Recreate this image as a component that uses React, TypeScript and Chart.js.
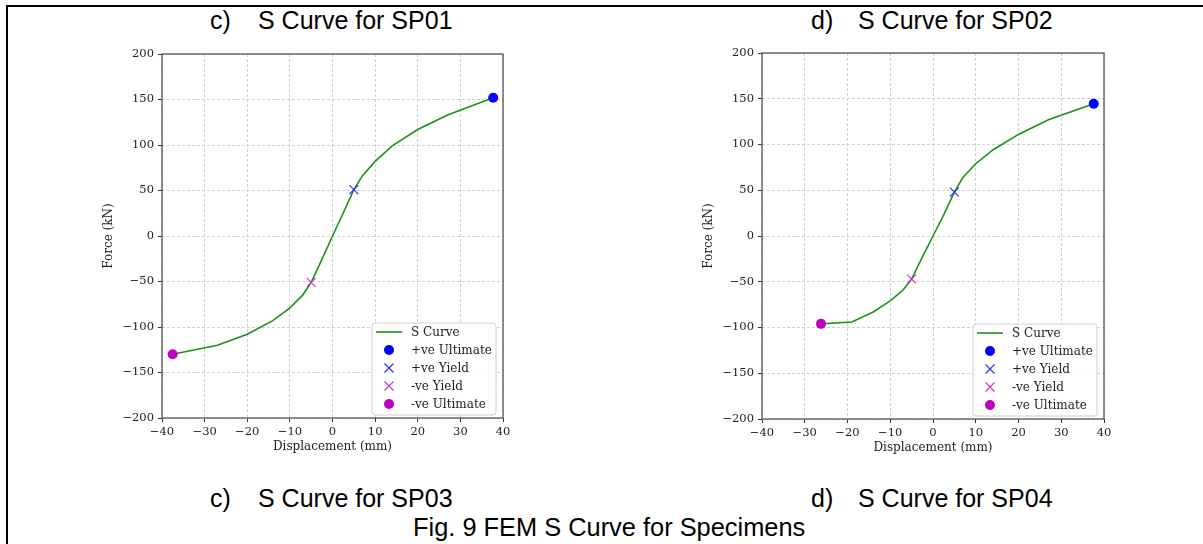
import React, { useEffect, useRef } from 'react';
import { Chart, registerables } from 'chart.js';

Chart.register(...registerables);

// ---------- data ----------
const sp01Disp = [-37.5, -27, -20, -14, -10, -7, -5, -2.5, 0, 2.5, 5, 7, 10, 14, 20, 27, 37.7];
const sp01Force = [-130, -120, -108, -93, -79, -65, -51, -26, 0, 25, 51, 66, 82, 99, 117, 133, 152];
const sp01PosUlt = [37.7, 152];
const sp01PosYield = [5, 51];
const sp01NegYield = [-5, -51];
const sp01NegUlt = [-37.5, -130];

const sp02Disp = [-26.2, -19, -14, -10, -7, -5, -2.5, 0, 2.5, 5, 7, 10, 14, 20, 27, 37.6];
const sp02Force = [-96, -94, -83, -71, -59, -47, -23, 0, 23, 48, 64, 79, 94, 111, 127, 144.5];
const sp02PosUlt = [37.6, 144.5];
const sp02PosYield = [5, 48];
const sp02NegYield = [-5, -47];
const sp02NegUlt = [-26.2, -96];

const xTicks = [-40, -30, -20, -10, 0, 10, 20, 30, 40];
const yTicks = [-200, -150, -100, -50, 0, 50, 100, 150, 200];

const legendLabels = ['S Curve', '+ve Ultimate', '+ve Yield', '-ve Yield', '-ve Ultimate'];
const xTitle = 'Displacement (mm)';
const yTitle = 'Force (kN)';

const GREEN = '#1a921a';
const BLUE = '#0000ff';
const MAGENTA = '#bf00bf';
const MAGENTA_X = '#cc33cc';
const BLUE_X = '#2a2aff';

const SERIF = '"DejaVu Serif", serif';

const fmt = (v: number) => (v < 0 ? '\u2212' + Math.abs(v) : String(v));

type Props = {
  dx: number[];
  fy: number[];
  posUlt: number[];
  posYield: number[];
  negYield: number[];
  negUlt: number[];
  left: number;
  top: number;
  padTop: number;
  padRight: number;
  xHeight: number;
};

function drawMarker(ctx: CanvasRenderingContext2D, kind: string, x: number, y: number, color: string) {
  ctx.save();
  if (kind === 'line') {
    ctx.strokeStyle = GREEN;
    ctx.lineWidth = 1.6;
    ctx.beginPath();
    ctx.moveTo(x - 13, y);
    ctx.lineTo(x + 13, y);
    ctx.stroke();
  } else if (kind === 'circle') {
    ctx.fillStyle = color;
    ctx.beginPath();
    ctx.arc(x, y, 5, 0, Math.PI * 2);
    ctx.fill();
  } else {
    ctx.strokeStyle = color;
    ctx.lineWidth = 1.1;
    ctx.beginPath();
    ctx.moveTo(x - 4.5, y - 4.5);
    ctx.lineTo(x + 4.5, y + 4.5);
    ctx.moveTo(x + 4.5, y - 4.5);
    ctx.lineTo(x - 4.5, y + 4.5);
    ctx.stroke();
  }
  ctx.restore();
}

const framePlugin = {
  id: 'frameAndLegend',
  beforeDatasetsDraw(chart: any) {
    const { ctx, chartArea: a } = chart;
    ctx.save();
    ctx.strokeStyle = '#555';
    ctx.lineWidth = 1.3;
    ctx.strokeRect(a.left, a.top, a.right - a.left, a.bottom - a.top);
    ctx.restore();
  },
  afterDraw(chart: any) {
    const { ctx, chartArea: a } = chart;
    // axis titles
    ctx.save();
    ctx.fillStyle = '#222';
    ctx.font = '12px ' + SERIF;
    ctx.textAlign = 'center';
    ctx.textBaseline = 'middle';
    ctx.fillText(xTitle, (a.left + a.right) / 2, a.bottom + 29);
    ctx.translate(a.left - 53, (a.top + a.bottom) / 2);
    ctx.rotate(-Math.PI / 2);
    ctx.fillText(yTitle, 0, 0);
    ctx.restore();

    // legend
    const w = 124;
    const h = 92;
    const bx = a.right - 7 - w;
    const by = a.bottom - 3 - h;
    ctx.save();
    ctx.fillStyle = 'rgba(255,255,255,0.85)';
    ctx.strokeStyle = '#d0d0d0';
    ctx.lineWidth = 1;
    ctx.beginPath();
    const r = 3;
    ctx.moveTo(bx + r, by);
    ctx.lineTo(bx + w - r, by);
    ctx.quadraticCurveTo(bx + w, by, bx + w, by + r);
    ctx.lineTo(bx + w, by + h - r);
    ctx.quadraticCurveTo(bx + w, by + h, bx + w - r, by + h);
    ctx.lineTo(bx + r, by + h);
    ctx.quadraticCurveTo(bx, by + h, bx, by + h - r);
    ctx.lineTo(bx, by + r);
    ctx.quadraticCurveTo(bx, by, bx + r, by);
    ctx.closePath();
    ctx.fill();
    ctx.stroke();
    const kinds = ['line', 'circle', 'x', 'x', 'circle'];
    const colors = [GREEN, BLUE, BLUE_X, MAGENTA_X, MAGENTA];
    ctx.font = '12px ' + SERIF;
    ctx.fillStyle = '#222';
    ctx.textAlign = 'left';
    ctx.textBaseline = 'middle';
    legendLabels.forEach((lab, i) => {
      const cy = by + 9 + i * 18;
      drawMarker(ctx, kinds[i], bx + 17, cy, colors[i]);
      ctx.fillStyle = '#222';
      ctx.fillText(lab, bx + 39, cy + 0.5);
    });
    ctx.restore();
  },
};

function SCurveChart(p: Props) {
  const ref = useRef<HTMLCanvasElement>(null);
  useEffect(() => {
    if (!ref.current) return;
    const curve = p.dx.map((x, i) => ({ x, y: p.fy[i] }));
    const pt = (a: number[]) => [{ x: a[0], y: a[1] }];
    const tickFont = { family: SERIF, size: 11.5 };
    const chart = new Chart(ref.current, {
      type: 'scatter',
      data: {
        datasets: [
          {
            label: legendLabels[1],
            data: pt(p.posUlt),
            pointStyle: 'circle',
            pointRadius: 5,
            backgroundColor: BLUE,
            borderColor: BLUE,
            borderWidth: 0,
          },
          {
            label: legendLabels[2],
            data: pt(p.posYield),
            pointStyle: 'crossRot',
            pointRadius: 6.3,
            borderColor: BLUE_X,
            backgroundColor: BLUE_X,
            borderWidth: 1.1,
          },
          {
            label: legendLabels[3],
            data: pt(p.negYield),
            pointStyle: 'crossRot',
            pointRadius: 6.3,
            borderColor: MAGENTA_X,
            backgroundColor: MAGENTA_X,
            borderWidth: 1.1,
          },
          {
            label: legendLabels[4],
            data: pt(p.negUlt),
            pointStyle: 'circle',
            pointRadius: 5,
            backgroundColor: MAGENTA,
            borderColor: MAGENTA,
            borderWidth: 0,
          },
          {
            label: legendLabels[0],
            data: curve,
            showLine: true,
            pointRadius: 0,
            borderColor: GREEN,
            borderWidth: 1.6,
            tension: 0,
          },
        ],
      } as any,
      options: {
        animation: false,
        responsive: false,
        events: [],
        layout: { padding: { top: p.padTop, right: p.padRight, left: 0, bottom: 0 } },
        plugins: { legend: { display: false }, tooltip: { enabled: false }, title: { display: false } },
        scales: {
          x: {
            type: 'linear',
            min: -40,
            max: 40,
            afterBuildTicks: (s: any) => {
              s.ticks = xTicks.map((v) => ({ value: v }));
            },
            afterFit: (s: any) => {
              s.height = p.xHeight;
            },
            ticks: {
              font: tickFont,
              color: '#222',
              padding: 3,
              maxRotation: 0,
              autoSkip: false,
              callback: (v: any) => fmt(Number(v)),
            },
            grid: {
              color: '#c4c4c4',
              lineWidth: 0.8,
              tickColor: '#333',
              tickWidth: 1,
              tickLength: 4,
              tickBorderDash: [],
            },
            border: { display: false, dash: [3, 2] },
          },
          y: {
            type: 'linear',
            min: -200,
            max: 200,
            afterBuildTicks: (s: any) => {
              s.ticks = yTicks.map((v) => ({ value: v }));
            },
            afterFit: (s: any) => {
              s.width = 62;
            },
            ticks: {
              font: tickFont,
              color: '#222',
              padding: 4,
              autoSkip: false,
              callback: (v: any) => fmt(Number(v)),
            },
            grid: {
              color: '#c4c4c4',
              lineWidth: 0.8,
              tickColor: '#333',
              tickWidth: 1,
              tickLength: 4,
              tickBorderDash: [],
            },
            border: { display: false, dash: [3, 2] },
          },
        },
      } as any,
      plugins: [framePlugin],
    });
    return () => chart.destroy();
  }, []);
  return (
    <canvas
      ref={ref}
      width={420}
      height={420}
      style={{ position: 'absolute', left: p.left, top: p.top, width: 420, height: 420 }}
    />
  );
}

const SANS = '"Liberation Sans", Arial, sans-serif';

function Label({ x, y, text, size = 25 }: { x: number; y: number; text: string; size?: number }) {
  return (
    <div
      style={{
        position: 'absolute',
        left: x,
        top: y - size / 2,
        fontFamily: SANS,
        fontSize: size,
        lineHeight: `${size}px`,
        whiteSpace: 'nowrap',
        color: '#000',
      }}
    >
      {text}
    </div>
  );
}

export default function App() {
  return (
    <div
      style={{
        position: 'fixed',
        left: 0,
        top: 0,
        width: 1203,
        height: 544,
        background: '#fff',
        overflow: 'hidden',
      }}
    >
      <div style={{ position: 'absolute', left: 6, top: 5, width: 1197, height: 2, background: '#000' }} />
      <div style={{ position: 'absolute', left: 6, top: 5, width: 2, height: 539, background: '#000' }} />

      <Label x={210} y={20} text="c)" />
      <Label x={258} y={20} text="S Curve for SP01" />
      <Label x={811} y={20} text="d)" />
      <Label x={858} y={20} text="S Curve for SP02" />

      <SCurveChart
        dx={sp01Disp}
        fy={sp01Force}
        posUlt={sp01PosUlt}
        posYield={sp01PosYield}
        negYield={sp01NegYield}
        negUlt={sp01NegUlt}
        left={100}
        top={40}
        padTop={14}
        padRight={17}
        xHeight={42}
      />
      <SCurveChart
        dx={sp02Disp}
        fy={sp02Force}
        posUlt={sp02PosUlt}
        posYield={sp02PosYield}
        negYield={sp02NegYield}
        negUlt={sp02NegUlt}
        left={700}
        top={40}
        padTop={13}
        padRight={16}
        xHeight={41}
      />

      <Label x={210} y={498} text="c)" />
      <Label x={258} y={498} text="S Curve for SP03" />
      <Label x={811} y={498} text="d)" />
      <Label x={858} y={498} text="S Curve for SP04" />
      <Label x={413} y={528} text="Fig. 9 FEM S Curve for Specimens" size={25.4} />
    </div>
  );
}
